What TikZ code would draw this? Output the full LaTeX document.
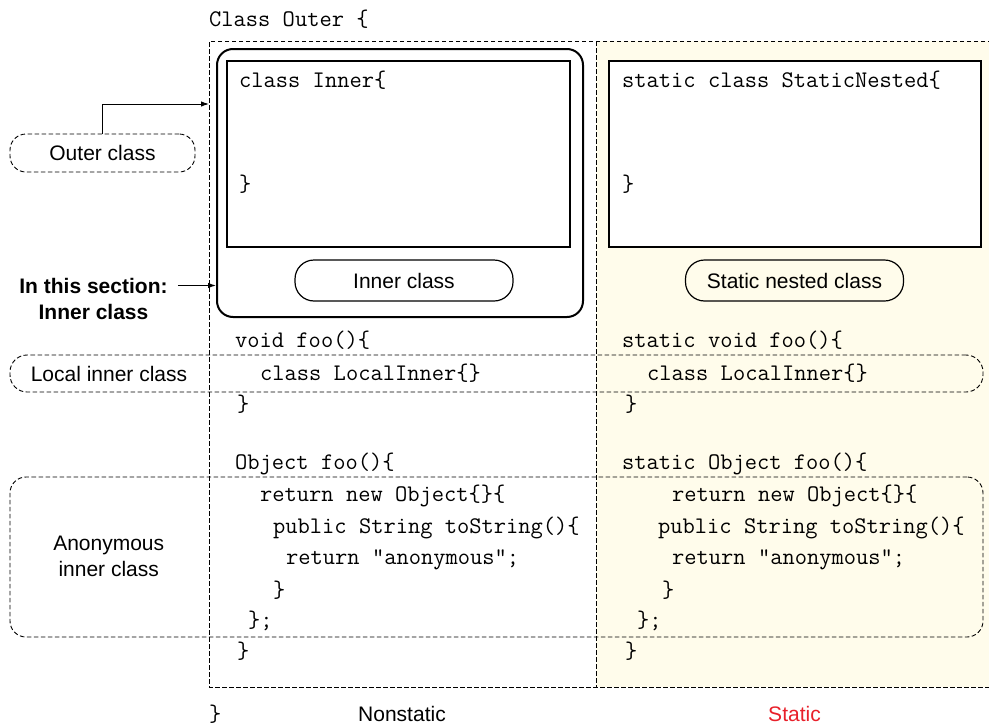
\documentclass[tikz,border=0pt]{standalone}
\usepackage{fontspec}
\setmainfont{Liberation Sans}
\usetikzlibrary{arrows.meta,calc}
\definecolor{staticbg}{HTML}{FFFCEB}
\definecolor{staticred}{HTML}{E8202A}
\begin{document}
\begin{tikzpicture}[x=1pt,y=-1pt,
  code/.style={anchor=base west, inner sep=0pt, font=\ttfamily\fontsize{23.8}{27}\selectfont},
  lbl/.style={inner sep=0pt, font=\fontsize{21}{25}\selectfont},
  blbl/.style={inner sep=0pt, font=\bfseries\fontsize{21}{25}\selectfont},
  pill/.style={draw, line width=1.2pt, rounded corners=19pt, inner sep=0pt, font=\fontsize{21}{25}\selectfont},
  dline/.style={draw, line width=0.9pt, dash pattern=on 4.5pt off 2.5pt},
  dbox/.style={dline, rounded corners=16pt},
  codebox/.style={draw, line width=1.3pt, fill=white},
  arr/.style={draw, line width=1pt, -{Latex[length=8pt,width=5.5pt]}}
]
\useasboundingbox (0,0) rectangle (989,726);

% static background
\fill[staticbg] (596,41) rectangle (992,687);

% outer dashed region
\coordinate (oNW) at (209,41);
\coordinate (oSW) at (209,687);
\coordinate (oNE) at (992,41);
\coordinate (oSE) at (992,687);
\coordinate (divT) at (596,41);
\coordinate (divB) at (596,687);
\path[dline] (oNE) -- (oNW) -- (oSW) -- (oSE);
\path[dline] (divT) -- (divB);

% title
\node[code] (classouter) at (209,26) {Class Outer \{};

% inner class box
\node[draw, line width=2pt, rounded corners=16pt, minimum width=366pt, minimum height=268pt, inner sep=0pt] (innerbox) at (400,183) {};
\node[codebox, minimum width=343pt, minimum height=186pt, inner sep=0pt] (innercode) at (398.5,154) {};
\node[code] (ci1) at (239,87) {class Inner\{};
\node[code] (ci2) at (239,191) {\}};
\node[pill, minimum width=218pt, minimum height=41pt] (innerlbl) at (404,280.5) {Inner class};

% static nested box
\node[codebox, minimum width=372pt, minimum height=186pt, inner sep=0pt] (staticcode) at (795,154) {};
\node[code] (cs1) at (622,87) {static class StaticNested\{};
\node[code] (cs2) at (622,191) {\}};
\node[pill, minimum width=218pt, minimum height=41pt] (staticlbl) at (794.5,280.5) {Static nested class};

% left labels
\node[pill, dbox, line width=0.9pt, minimum width=185pt, minimum height=38pt] (outerlbl) at (102.5,153) {\raisebox{-1pt}{Outer class}};
\coordinate (outerArrow) at (209,104);
\path[arr] (outerlbl.north) |- (outerArrow);

\node[blbl, anchor=base] (sec1) at (93.5,293) {In this section:};
\node[blbl, anchor=base] (sec2) at (93.5,319) {Inner class};
\path[arr] ($(sec1.east)+(10,0)$) -- (innerbox.west |- sec1.east);

% local inner class band
\node[dbox, rounded corners=17pt, minimum width=973pt, minimum height=37pt, inner sep=0pt] (localbox) at (496.5,373.5) {};
\node[lbl, anchor=base] (locallbl) at (109,381) {Local inner class};

% anonymous band
\node[dbox, minimum width=973pt, minimum height=160pt, inner sep=0pt] (anonbox) at (496.5,557) {};
\node[lbl, anchor=base] (anon1) at (108.7,550) {Anonymous};
\node[lbl, anchor=base] (anon2) at (108.7,576) {inner class};

% nonstatic code
\node[code] (n1) at (235,347) {void foo()\{};
\node[code] (n2) at (260,380) {class LocalInner\{\}};
\node[code] (n3) at (237,411) {\}};
\node[code] (n4) at (235,469) {Object foo()\{};
\node[code] (n5) at (260,501) {return new Object\{\}\{};
\node[code] (n6) at (273,533) {public String toString()\{};
\node[code] (n7) at (286,564) {return "anonymous";};
\node[code] (n8) at (273,597) {\}};
\node[code] (n9) at (248,627) {\};};
\node[code] (n10) at (237,658) {\}};

% static code
\node[code] (s1) at (622,347) {static void foo()\{};
\node[code] (s2) at (647,380) {class LocalInner\{\}};
\node[code] (s3) at (625,411) {\}};
\node[code] (s4) at (622,469) {static Object foo()\{};
\node[code] (s5) at (672,501) {return new Object\{\}\{};
\node[code] (s6) at (658,533) {public String toString()\{};
\node[code] (s7) at (672,564) {return "anonymous";};
\node[code] (s8) at (662,597) {\}};
\node[code] (s9) at (637,627) {\};};
\node[code] (s10) at (625,658) {\}};

% bottom
\node[code] (closing) at (209,721) {\}};
\node[lbl, anchor=base] (nonstatic) at (402,721.5) {Nonstatic};
\node[lbl, anchor=base, text=staticred] (static) at (794.5,721.5) {Static};
\end{tikzpicture}
\end{document}
